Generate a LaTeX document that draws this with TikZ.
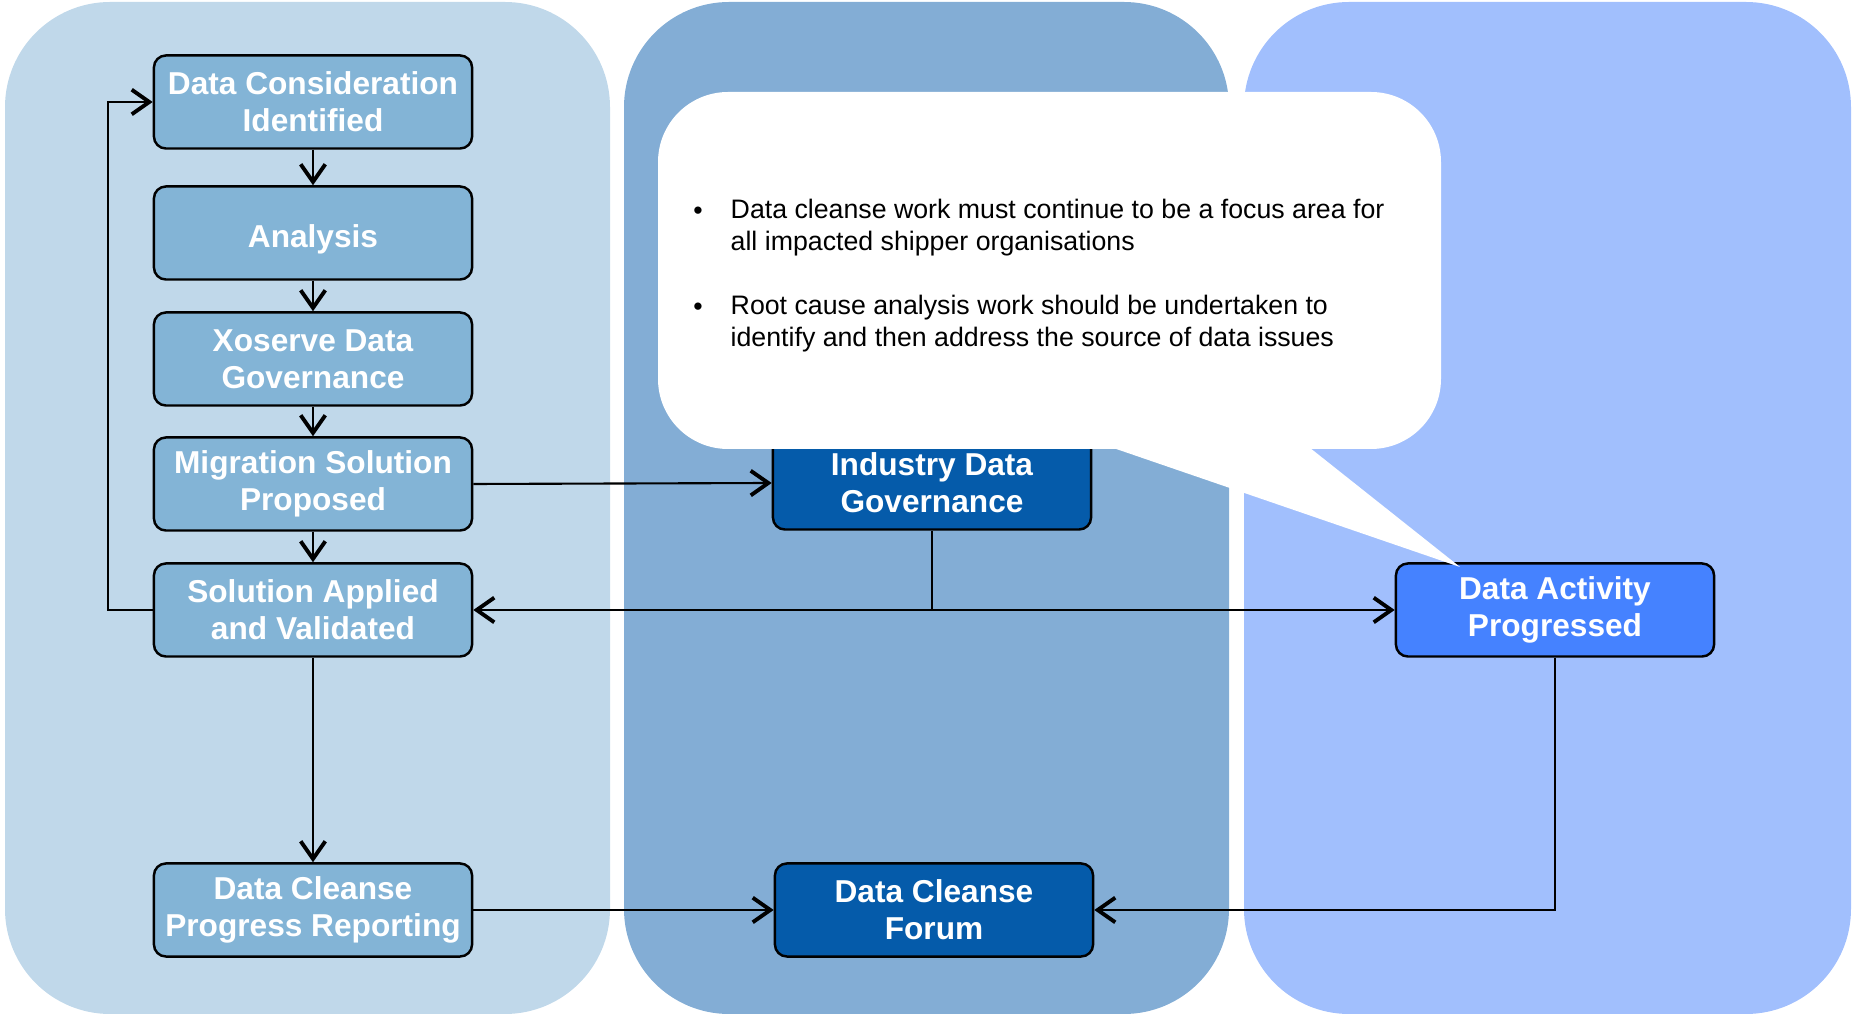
\documentclass[tikz,border=0pt]{standalone}
\usepackage{fontspec}
\setmainfont{Liberation Sans}
\usepackage{tikz}
\usetikzlibrary{arrows.meta}

\definecolor{laneA}{RGB}{192,216,234}
\definecolor{laneB}{RGB}{131,173,213}
\definecolor{laneC}{RGB}{161,191,253}
\definecolor{boxA}{RGB}{131,180,214}
\definecolor{boxB}{RGB}{5,91,170}
\definecolor{boxC}{RGB}{69,130,255}

\begin{document}
\begin{tikzpicture}[x=0.01cm,y=-0.01cm,
                every path/.style={>={Straight Barb[length=5pt,width=7pt,line width=1.1pt]}},
                box/.style={draw=black,line width=0.7pt,rounded corners=0.12cm,
                  minimum width=3.18cm,minimum height=0.93cm,inner sep=0pt,
                  text=white,align=center,font=\fontsize{9}{10.6}\selectfont\bfseries,
                  execute at begin node={\rule{0pt}{10pt}}},
                link/.style={line width=0.6pt},
                lane/.style={rounded corners=1.05cm},
                notetext/.style={inner sep=0pt,align=left,font=\fontsize{7.6}{9.1}\selectfont}]
  \useasboundingbox (0,0) rectangle (1853,1016);
  % swim lanes
  \fill[lane,laneA] (5,2) rectangle (610,1014);
  \fill[lane,laneB] (624,2) rectangle (1229,1014);
  \fill[lane,laneC] (1244,2) rectangle (1851,1014);
  % steps
  \node[box,fill=boxA]  (consider)  at (313,102)  {Data Consideration\\Identified};
  \node[box,fill=boxA]  (analysis)  at (313,233)  {Analysis};
  \node[box,fill=boxA]  (xoserve)   at (313,359)  {Xoserve Data\\Governance};
  \node[box,fill=boxA]  (migration) at (313,484)  {Migration Solution\\Proposed};
  \node[box,fill=boxA]  (applied)   at (313,610)  {Solution Applied\\and Validated};
  \node[box,fill=boxA]  (reporting) at (313,910)  {Data Cleanse\\Progress Reporting};
  \node[box,fill=boxB]  (industry)  at (932,483)  {Industry Data\\Governance};
  \node[box,fill=boxB]  (forum)     at (934,910)  {Data Cleanse\\Forum};
  \node[box,fill=boxC]  (activity)  at (1555,610) {Data Activity\\Progressed};
  \coordinate (split) at (industry.south |- applied.east);
  \draw[link,->] (consider) -- (analysis);
  \draw[link,->] (analysis) -- (xoserve);
  \draw[link,->] (xoserve) -- (migration);
  \draw[link,->] (migration) -- (applied);
  \draw[link,->] (applied.west) -- ([xshift=-0.45cm]applied.west) |- (consider.west);
  \draw[link,->] (migration.east) -- (industry.west);
  \draw[link] (industry.south) -- (split);
  \draw[link,->] (split) -- (applied.east);
  \draw[link,->] (split) -- (activity.west);
  \draw[link,->] (applied) -- (reporting);
  \draw[link,->] (reporting) -- (forum);
  \draw[link,->] (activity.south) |- (forum.east);
  % callout
  \fill[white,rounded corners=0.7cm] (658,92) rectangle (1441,449);
  \fill[white] (1090,440) -- (1460,567) -- (1300,440) -- cycle;
  \node[notetext] (dotA) at (698,213) {\textbullet};
  \node[notetext,anchor=west] (itemA) at (730,228)
    {Data cleanse work must continue to be a focus area for\\all impacted shipper organisations};
  \node[notetext] (dotB) at (698,309) {\textbullet};
  \node[notetext,anchor=west] (itemB) at (730,324)
    {Root cause analysis work should be undertaken to\\identify and then address the source of data issues};
\end{tikzpicture}
\end{document}
